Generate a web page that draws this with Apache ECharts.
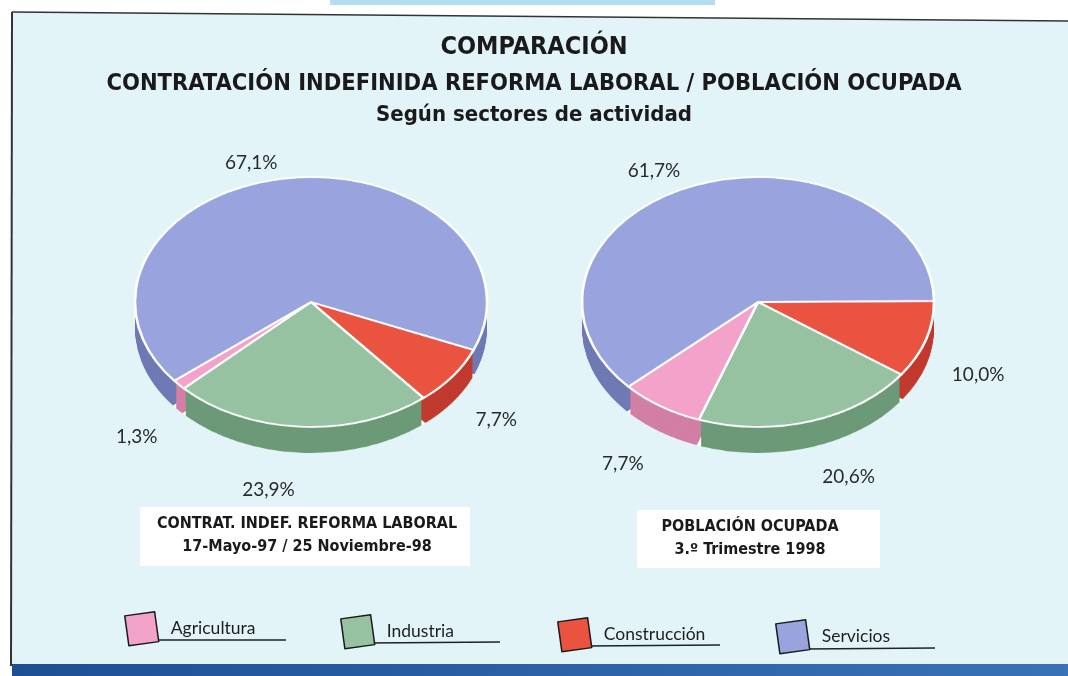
<!DOCTYPE html>
<html>
<head>
<meta charset="utf-8">
<script src="https://cdn.jsdelivr.net/npm/echarts@6/dist/echarts.min.js"></script>
<style>
  html, body { margin: 0; padding: 0; background: #fff; }
  #wrap { position: relative; width: 1068px; height: 676px; overflow: hidden; }
  #panel { position: absolute; left: 12px; top: 12px; width: 1056px; height: 653px; background: #e2f4f8;
           clip-path: polygon(0 0, 100% 9px, 100% 100%, 0 100%); }
  /* the pies are drawn round and squashed here to get the tilted look */
  #pies { position: absolute; left: 0; top: 0; width: 1068px; height: 952px; transform: scaleY(0.71); transform-origin: 0 0; }
  #main { position: absolute; left: 0; top: 0; width: 1068px; height: 676px; }
</style>
</head>
<body>
<div id="wrap">
  <div id="panel"></div>
  <div id="pies"></div>
  <div id="main"></div>
</div>
<script>
  var categories = ['Agricultura', 'Industria', 'Construcción', 'Servicios'];
  // contratación indefinida reforma laboral, 17-5-97 / 25-11-98 (%)
  var contratValues = [1.3, 23.9, 7.7, 67.1];
  // población ocupada, 3er trimestre 1998 (%)
  var ocupadaValues = [7.7, 20.6, 10.0, 61.7];
  var topColors = ['#f3a2c9', '#96c2a1', '#e9533f', '#99a3dd'];
  var sideColors = ['#d27fa5', '#6c9a78', '#c13a2e', '#6f7ab5'];
  var titleLines = ['COMPARACIÓN', 'CONTRATACIÓN INDEFINIDA REFORMA LABORAL / POBLACIÓN OCUPADA', 'Según sectores de actividad'];
  var boxLeftLines = ['CONTRAT. INDEF. REFORMA LABORAL', '17-Mayo-97 / 25 Noviembre-98'];
  var boxRightLines = ['POBLACIÓN OCUPADA', '3.º Trimestre 1998'];
  // order the slices are laid clockwise
  var sliceOrder = [2, 1, 0, 3];

  var FONT = '"DejaVu Sans Condensed", "Liberation Sans Narrow", Roboto, sans-serif';
  var LFONT = 'Lato, "Noto Sans", sans-serif';
  var K = 0.71, RX = 176, DEPTH = 26;
  var pies = [
    {values: contratValues, cx: 311, cy: 302, start: -22.5},
    {values: ocupadaValues, cx: 758, cy: 302, start: 0.5}
  ];

  function sliceData(values, colors) {
    return sliceOrder.map(function (i) {
      return {name: categories[i], value: values[i], itemStyle: {color: colors[i]}};
    });
  }

  function pieLayer(p, drop, colors, extra) {
    var s = {
      type: 'pie', silent: true, animation: false,
      center: [p.cx, (p.cy + drop) / K], radius: RX,
      startAngle: p.start, clockwise: true,
      label: {show: false}, labelLine: {show: false},
      emphasis: {disabled: true},
      data: sliceData(p.values, colors)
    };
    return Object.assign(s, extra || {});
  }

  var whites = categories.map(function () { return '#ffffff'; });
  var clear = categories.map(function () { return 'rgba(0,0,0,0)'; });

  var pieSeries = [];
  pies.forEach(function (p) {
    for (var d = DEPTH; d >= 0; d--) pieSeries.push(pieLayer(p, d, whites));
    for (var e = DEPTH; e >= 1; e--) pieSeries.push(pieLayer(p, e, sideColors, {padAngle: 1.5}));
    pieSeries.push(pieLayer(p, 0, topColors, {itemStyle: {borderColor: '#ffffff', borderWidth: 2.6}}));
  });

  var pieChart = echarts.init(document.getElementById('pies'));
  pieChart.setOption({animation: false, series: pieSeries});

  // labels, titles, legend on an unsquashed chart on top
  var labelSeries = pies.map(function (p) {
    return {
      type: 'pie', silent: true, animation: false,
      center: [p.cx, p.cy], radius: RX,
      startAngle: p.start, clockwise: true,
      avoidLabelOverlap: false,
      label: {
        show: true, position: 'outside', color: '#2a2a2a', fontSize: 19, fontFamily: LFONT,
        formatter: function (o) { return o.value.toFixed(1).replace('.', ',') + '%'; }
      },
      labelLine: {show: false, length: 22, length2: 0},
      labelLayout: function (params) {
        var r = params.labelRect;
        var lx = r.x + r.width / 2, ly = r.y + r.height / 2;
        var dy = ly - p.cy;
        var s = dy / Math.sqrt((lx - p.cx) * (lx - p.cx) + dy * dy);
        var ny = p.cy + dy * K + (dy > 0 ? DEPTH + 16 * s + (lx < p.cx ? 6 : 0) : 0);
        return {x: lx, y: ny, align: 'center', verticalAlign: 'middle'};
      },
      data: sliceData(p.values, clear)
    };
  });

  var legendPos = [[124, 611], [340, 614], [557, 617], [775, 619]];
  var underlines = [[150, 640, 286, 640], [368, 643, 500, 642], [587, 646, 720, 645], [805, 649, 935, 648]];
  var squareIcon = 'path://M0,4 L29,0 L33,29 L4,33 Z';

  var legends = categories.map(function (c, i) {
    return {
      left: legendPos[i][0], top: legendPos[i][1], padding: 0,
      selectedMode: false, icon: squareIcon, itemWidth: 34, itemHeight: 34,
      textStyle: {fontSize: 17.5, color: '#1e1e1e', fontFamily: LFONT, padding: [0, 0, 0, 7]},
      data: [{name: c, itemStyle: {color: topColors[i], borderColor: '#1a1a1a', borderWidth: 1.5}}]
    };
  });

  var graphics = [
    {type: 'rect', shape: {x: 330, y: 0, width: 385, height: 5}, style: {fill: '#b4def0'}},
    {type: 'line', shape: {x1: 12, y1: 12, x2: 1068, y2: 21}, style: {stroke: '#333', lineWidth: 1.5}},
    {type: 'line', shape: {x1: 12, y1: 12, x2: 11, y2: 666}, style: {stroke: '#333', lineWidth: 2}},
    {type: 'rect', shape: {x: 12, y: 664, width: 1056, height: 12},
     style: {fill: new echarts.graphic.LinearGradient(0, 0, 1, 0, [{offset: 0, color: '#1d4f93'}, {offset: 1, color: '#3a72b6'}])}},
    {type: 'rect', shape: {x: 140, y: 507, width: 330, height: 59}, style: {fill: '#ffffff'}},
    {type: 'rect', shape: {x: 637, y: 510, width: 243, height: 58}, style: {fill: '#ffffff'}}
  ];
  [[boxLeftLines, 307, 524], [boxRightLines, 750, 527]].forEach(function (b) {
    b[0].forEach(function (t, j) {
      graphics.push({type: 'text', style: {text: t, x: b[1], y: b[2] + j * 23, align: 'center', verticalAlign: 'middle',
        fill: '#1a1a1a', font: 'bold 16px ' + FONT}});
    });
  });
  underlines.forEach(function (u) {
    graphics.push({type: 'line', shape: {x1: u[0], y1: u[1], x2: u[2], y2: u[3]}, style: {stroke: '#222', lineWidth: 1.5}});
  });

  var mainChart = echarts.init(document.getElementById('main'));
  mainChart.setOption({
    animation: false,
    title: [
      {text: titleLines[0], left: 'center', top: 35, padding: [0, 0, 0, 10], textStyle: {fontSize: 25, fontWeight: 'bold', color: '#1a1a1a', fontFamily: FONT}},
      {text: titleLines[1], left: 'center', top: 72, padding: [0, 0, 0, 10], textStyle: {fontSize: 23.5, fontWeight: 'bold', color: '#1a1a1a', fontFamily: FONT}},
      {text: titleLines[2], left: 'center', top: 104, padding: [0, 0, 0, 10], textStyle: {fontSize: 22, fontWeight: 'bold', color: '#1a1a1a', fontFamily: FONT}}
    ],
    legend: legends,
    graphic: graphics,
    series: labelSeries
  });
</script>
</body>
</html>
